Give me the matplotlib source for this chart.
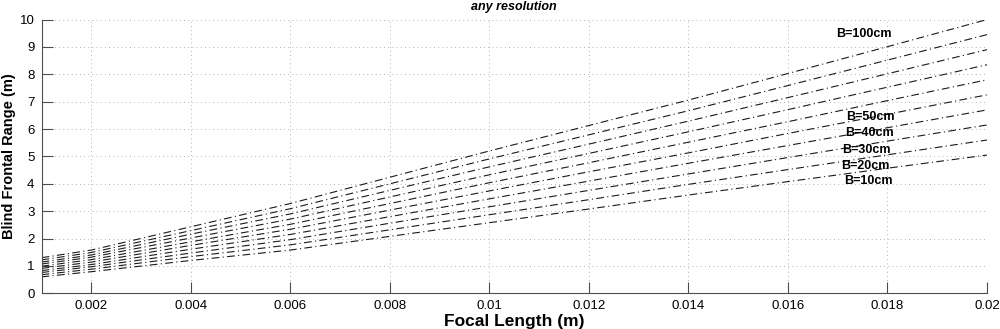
import matplotlib
matplotlib.use('Agg')
import matplotlib.pyplot as plt
import numpy as np

plt.rcParams['font.family'] = ['Liberation Sans', 'DejaVu Sans']

# focal length samples (m)
focal = [0.001, 0.002, 0.004, 0.006, 0.008, 0.010, 0.012, 0.014, 0.016, 0.018, 0.020]

# blind frontal range (m) for each baseline
baselines = [10, 20, 30, 40, 50, 60, 70, 80, 90, 100]
ranges = {
    10:  [0.60, 0.79, 1.20, 1.58, 2.08, 2.58, 3.08, 3.59, 4.08, 4.57, 5.05],
    20:  [0.68, 0.88, 1.34, 1.77, 2.32, 2.87, 3.42, 3.98, 4.52, 5.06, 5.60],
    30:  [0.76, 0.97, 1.47, 1.96, 2.56, 3.16, 3.76, 4.36, 4.96, 5.56, 6.15],
    40:  [0.83, 1.05, 1.61, 2.15, 2.80, 3.45, 4.10, 4.75, 5.40, 6.05, 6.70],
    50:  [0.91, 1.14, 1.75, 2.34, 3.04, 3.74, 4.44, 5.13, 5.84, 6.54, 7.25],
    60:  [0.99, 1.23, 1.88, 2.52, 3.28, 4.04, 4.77, 5.52, 6.27, 7.04, 7.80],
    70:  [1.07, 1.32, 2.02, 2.71, 3.52, 4.33, 5.11, 5.90, 6.71, 7.53, 8.35],
    80:  [1.14, 1.40, 2.16, 2.90, 3.76, 4.62, 5.45, 6.29, 7.15, 8.02, 8.90],
    90:  [1.22, 1.49, 2.29, 3.09, 4.00, 4.91, 5.79, 6.67, 7.59, 8.52, 9.45],
    100: [1.30, 1.58, 2.43, 3.28, 4.24, 5.20, 6.13, 7.06, 8.03, 9.01, 10.00],
}

label_text = ['B=100cm', 'B=50cm', 'B=40cm', 'B=30cm', 'B=20cm', 'B=10cm']
label_x = [0.01753, 0.01765, 0.01763, 0.01757, 0.01755, 0.01761]
label_y = [9.46, 6.45, 5.84, 5.25, 4.65, 4.11]

xticks = [0.002, 0.004, 0.006, 0.008, 0.01, 0.012, 0.014, 0.016, 0.018, 0.02]
xtick_labels = ['0.002', '0.004', '0.006', '0.008', '0.01', '0.012', '0.014', '0.016', '0.018', '0.02']
yticks = list(range(0, 11))

fig = plt.figure(figsize=(10, 3.29), dpi=100)
ax = fig.add_axes([0.0415, 0.1085, 0.9455, 0.832])

for b in baselines:
    ax.plot(focal, ranges[b], color='0.1', lw=0.8, linestyle=(0, (7, 3, 1, 3)))

for t, x, y in zip(label_text, label_x, label_y):
    ax.text(x, y, t, fontsize=9, fontweight='bold', ha='center', va='center')

ax.set_xlim(0.001, 0.02)
ax.set_ylim(0, 10)
ax.set_xticks(xticks)
ax.set_xticklabels(xtick_labels)
ax.set_yticks(yticks)
ax.tick_params(direction='in', length=8, width=0.8, labelsize=9.5, color='0.3', pad=5)
ax.grid(True, linestyle=(0, (1, 4)), color='0.6', lw=0.6)
ax.spines['top'].set_visible(False)
ax.spines['right'].set_visible(False)
ax.spines['left'].set_color('0.3')
ax.spines['bottom'].set_color('0.3')

ax.set_xlabel('Focal Length (m)', fontsize=12.5, fontweight='bold', labelpad=1)
ax.set_ylabel('Blind Frontal Range (m)', fontsize=10.5, fontweight='bold', labelpad=3)
ax.set_title('any resolution', fontsize=9, fontweight='bold', style='italic', pad=7)

fig.savefig('out.png', dpi=100)
